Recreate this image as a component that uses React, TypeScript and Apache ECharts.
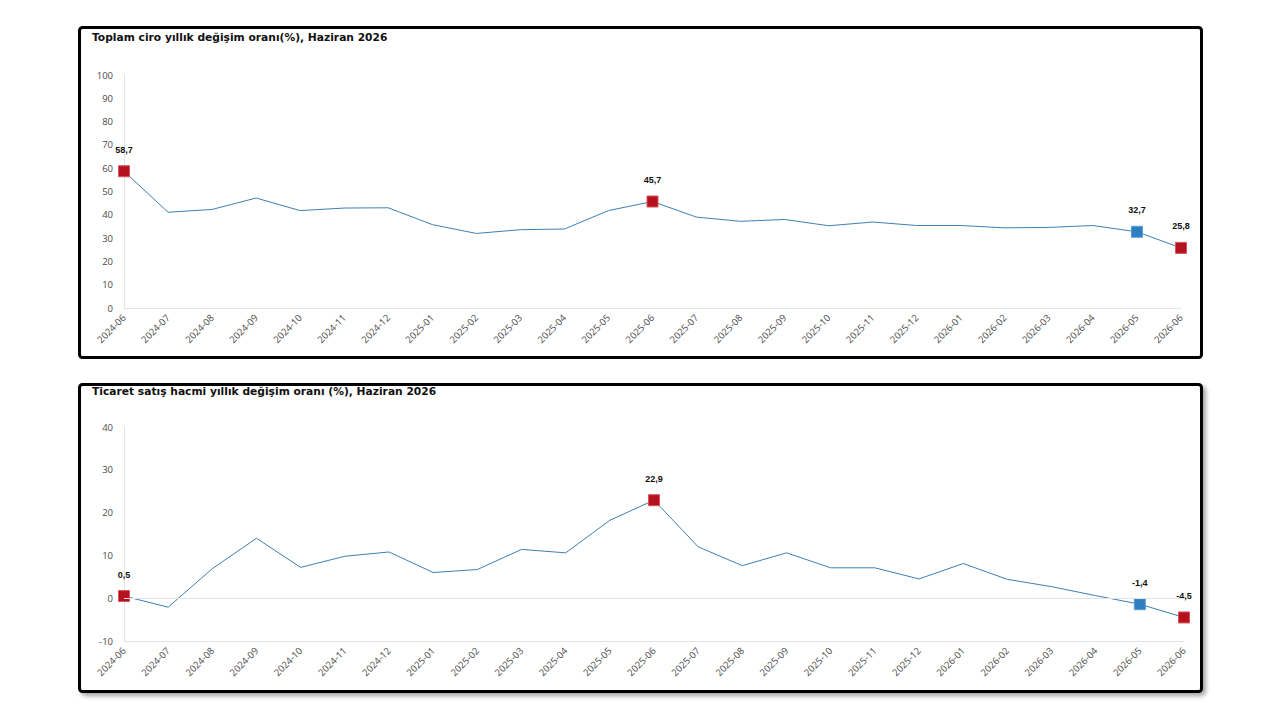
import React, { useEffect, useRef } from "react";
import * as echarts from "echarts";

const months = [
  "2024-06", "2024-07", "2024-08", "2024-09", "2024-10", "2024-11", "2024-12",
  "2025-01", "2025-02", "2025-03", "2025-04", "2025-05", "2025-06", "2025-07",
  "2025-08", "2025-09", "2025-10", "2025-11", "2025-12", "2026-01", "2026-02",
  "2026-03", "2026-04", "2026-05", "2026-06",
];

const ciroValues = [
  58.7, 41.1, 42.3, 47.2, 41.8, 42.9, 43.0, 35.8, 32.0, 33.6, 33.9, 41.8, 45.7,
  39.0, 37.2, 38.0, 35.3, 36.9, 35.4, 35.4, 34.4, 34.6, 35.4, 32.7, 25.8,
];

const hacimValues = [
  0.5, -2.1, 6.9, 14.0, 7.2, 9.8, 10.8, 6.0, 6.7, 11.4, 10.6, 18.2, 22.9,
  12.0, 7.6, 10.6, 7.1, 7.1, 4.5, 8.1, 4.4, 2.7, 0.6, -1.4, -4.5,
];

const redIdx = [0, 12, 24];
const blueIdx = [23];

const topTitle = "Toplam ciro yıllık değişim oranı(%), Haziran 2026";
const bottomTitle = "Ticaret satış hacmi yıllık değişim oranı (%), Haziran 2026";

const RED = "#b3121e";
const BLUE = "#2f7ec1";
const LINE = "#3d7fb4";

function fmt(v: number) {
  return v.toFixed(1).replace(".", ",");
}

function buildData(values: number[]) {
  return values.map((v, i) => {
    const isRed = redIdx.includes(i);
    const isBlue = blueIdx.includes(i);
    if (isRed || isBlue) {
      return {
        value: v,
        symbol: "rect",
        symbolSize: 11,
        itemStyle: { color: isRed ? RED : BLUE, borderColor: isRed ? "#d9545c" : "#5a9bd4", borderWidth: 1 },
        label: {
          show: true,
          position: "top",
          distance: 11,
          formatter: () => fmt(v),
          fontSize: 9,
          fontWeight: "bold",
          color: "#111",
          fontFamily: "Liberation Sans, Arial, sans-serif",
        },
      };
    }
    return { value: v, symbol: "none" };
  });
}

export default function App() {
  const ref = useRef<HTMLDivElement>(null);

  useEffect(() => {
    if (!ref.current) return;
    const chart = echarts.init(ref.current, undefined, { renderer: "svg" });
    const axisLabelStyle = {
      fontSize: 9.5,
      color: "#4a4a4a",
      fontFamily: "Open Sans, Liberation Sans, Arial, sans-serif",
    };
    const titleStyle = {
      fontSize: 10.7,
      fontWeight: "bold",
      color: "#111",
      fontFamily: "DejaVu Sans, Verdana, sans-serif",
    };
    const xAxisCommon = {
      type: "category",
      data: months,
      boundaryGap: false,
      axisTick: { show: false },
      axisLine: { show: true, onZero: false, lineStyle: { color: "#e3e3e3", width: 1 } },
      axisLabel: { ...axisLabelStyle, rotate: 45, margin: 8, interval: 0 },
      splitLine: { show: false },
    };
    chart.setOption({
      animation: false,
      backgroundColor: "#ffffff",
      graphic: [
        {
          type: "rect",
          shape: { x: 79.5, y: 27.5, width: 1122, height: 330, r: 3 },
          style: { fill: "#fff", stroke: "#000", lineWidth: 3 },
          z: -10,
        },
        {
          type: "rect",
          shape: { x: 79.5, y: 384.5, width: 1122, height: 307, r: 3 },
          style: {
            fill: "#fff",
            stroke: "#000",
            lineWidth: 3,
            shadowBlur: 4,
            shadowOffsetX: 3,
            shadowOffsetY: 3,
            shadowColor: "rgba(0,0,0,0.35)",
          },
          z: -10,
        },
      ],
      title: [
        { text: topTitle, left: 92, top: 32, padding: 0, textStyle: titleStyle },
        { text: bottomTitle, left: 92, top: 386, padding: 0, textStyle: titleStyle },
      ],
      grid: [
        { left: 124, right: 99, top: 75, bottom: 412 },
        { left: 124, right: 96, top: 427, bottom: 79 },
      ],
      xAxis: [
        { ...xAxisCommon, gridIndex: 0 },
        { ...xAxisCommon, gridIndex: 1 },
      ],
      yAxis: [
        {
          type: "value",
          gridIndex: 0,
          min: 0,
          max: 100,
          interval: 10,
          axisLine: { show: true, lineStyle: { color: "#e3e3e3" } },
          axisTick: { show: false },
          splitLine: { show: false },
          axisLabel: { ...axisLabelStyle, margin: 11 },
        },
        {
          type: "value",
          gridIndex: 1,
          min: -10,
          max: 40,
          interval: 10,
          axisLine: { show: true, lineStyle: { color: "#e3e3e3" } },
          axisTick: { show: false },
          splitLine: { show: false },
          axisLabel: { ...axisLabelStyle, margin: 11 },
        },
      ],
      series: [
        {
          type: "line",
          xAxisIndex: 0,
          yAxisIndex: 0,
          data: buildData(ciroValues),
          lineStyle: { color: LINE, width: 1 },
          itemStyle: { color: LINE },
          showAllSymbol: true,
          z: 3,
        },
        {
          type: "line",
          xAxisIndex: 1,
          yAxisIndex: 1,
          data: buildData(hacimValues),
          lineStyle: { color: LINE, width: 1 },
          itemStyle: { color: LINE },
          showAllSymbol: true,
          z: 3,
          markLine: {
            silent: true,
            symbol: "none",
            label: { show: false },
            lineStyle: { color: "#e3e3e3", type: "solid", width: 1 },
            data: [{ yAxis: 0 }],
          },
        },
      ],
    });
    return () => chart.dispose();
  }, []);

  return (
    <div
      ref={ref}
      style={{ position: "fixed", left: 0, top: 0, width: 1280, height: 720, background: "#fff" }}
    />
  );
}
